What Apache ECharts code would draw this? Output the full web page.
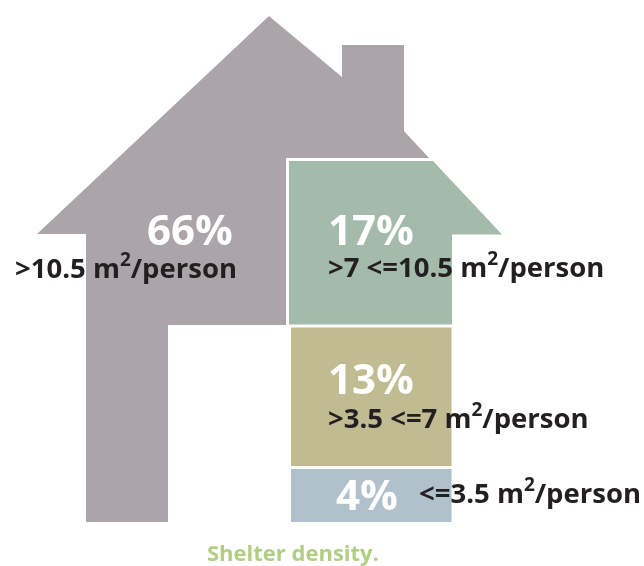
<!DOCTYPE html>
<html>
<head>
<meta charset="utf-8">
<title>Shelter density</title>
<style type="text/css">
html, body { margin: 0; padding: 0; background: #fff; }
#main { width: 644px; height: 566px; }
</style>
<script src="https://cdn.jsdelivr.net/npm/echarts@6/dist/echarts.min.js"></script>
</head>
<body>
<div id="main"></div>
<script>
var caption = 'Shelter density.';
var percents = [66, 17, 13, 4];
var densities = ['>10.5', '>7 <=10.5', '>3.5 <=7', '<=3.5'];
var colors = ['#aba5aa', '#a4baaa', '#c0bb90', '#b1c1cb'];

// outline of each part of the house, in picture units
var outlines = [
    [[269, 16], [342, 77], [342, 45], [404, 45], [404, 131], [429, 158], [286, 158], [286, 325], [168, 325], [168, 522], [86, 522], [86, 234], [37, 234]],
    [[289, 161], [433, 161], [502, 234.5], [452, 234.5], [452, 324.5], [289, 324.5]],
    [[291, 327.5], [451.5, 327.5], [451.5, 466], [291, 466]],
    [[291, 469], [451.5, 469], [451.5, 522], [291, 522]]
];
// left edge and middle of the percent and of the density label
var percentAt = [[147, 233], [328, 233], [328, 382], [336, 498]];
var labelAt = [[15, 265], [328, 264], [328, 415], [419, 490]];

var chart = echarts.init(document.getElementById('main'));

function renderPart(params, api) {
    var i = params.dataIndex;
    var points = outlines[i].map(function (p) {
        return api.coord(p);
    });
    var pct = api.coord(percentAt[i]);
    var lab = api.coord(labelAt[i]);
    return {
        type: 'group',
        children: [{
            type: 'polygon',
            shape: { points: points },
            style: { fill: colors[i] }
        }, {
            type: 'text',
            z2: 10,
            x: pct[0],
            y: pct[1],
            style: {
                text: api.value(0) + '%',
                fill: '#fff',
                font: 'bold 42px "Open Sans"',
                align: 'left',
                verticalAlign: 'middle'
            }
        }, {
            type: 'text',
            z2: 10,
            x: lab[0],
            y: lab[1],
            style: {
                text: '{a|' + densities[i] + ' m}{s|2}{a|/person}',
                align: 'left',
                verticalAlign: 'middle',
                rich: {
                    a: { font: 'bold 27.5px "Open Sans"', fill: '#231f20', lineHeight: 38, verticalAlign: 'bottom' },
                    s: { font: 'bold 19px "Open Sans"', fill: '#231f20', height: 30, lineHeight: 30, verticalAlign: 'top' }
                }
            }
        }]
    };
}

chart.setOption({
    animation: false,
    backgroundColor: '#fff',
    title: {
        text: caption,
        left: 207,
        top: 544,
        padding: 0,
        textStyle: { color: '#b2ce82', fontFamily: 'Open Sans', fontWeight: 'bold', fontSize: 22 }
    },
    grid: { left: 0, right: 0, top: 0, bottom: 0 },
    xAxis: { type: 'value', min: 0, max: 644, show: false },
    yAxis: { type: 'value', min: 0, max: 566, inverse: true, show: false },
    series: [{
        type: 'custom',
        coordinateSystem: 'cartesian2d',
        clip: false,
        silent: true,
        renderItem: renderPart,
        encode: { x: 1, y: 1 },
        data: percents.map(function (v) {
            return [v, 0];
        })
    }]
});
</script>
</body>
</html>
